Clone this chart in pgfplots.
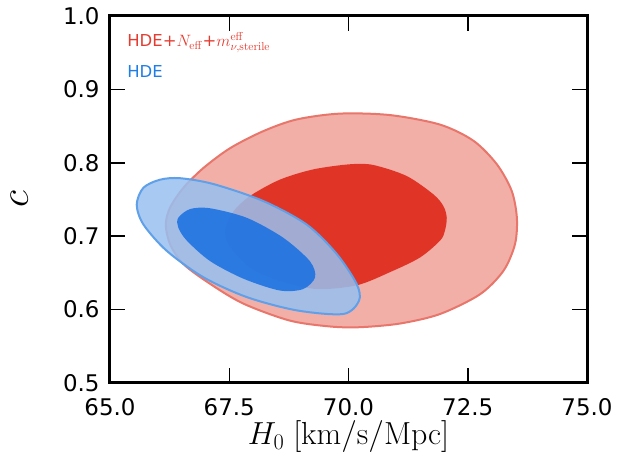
\RequirePackage{fix-cm}
\documentclass[border=0pt]{standalone}
\usepackage[no-math]{fontspec}
\setmainfont{DejaVu Sans}
\usepackage{pgfplots}
\pgfplotsset{compat=1.18}
\definecolor{redouter}{RGB}{242,175,168}
\definecolor{redline}{RGB}{232,118,107}
\definecolor{redinner}{RGB}{224,53,38}
\definecolor{blueouter}{RGB}{152,192,240}
\definecolor{blueline}{RGB}{95,160,232}
\definecolor{blueinner}{RGB}{30,115,225}
\definecolor{legred}{RGB}{228,60,48}
\definecolor{legblue}{RGB}{30,125,230}
\begin{document}
\begin{tikzpicture}
\begin{axis}[name=ax, scale only axis, width=477bp, height=367bp,
  xmin=65, xmax=75, ymin=0.5, ymax=1.0,
  xtick={65,67.5,70,72.5,75}, ytick={0.5,0.6,0.7,0.8,0.9,1.0},
  /pgf/number format/.cd, fixed, fixed zerofill, precision=1, assume math mode=true, /pgfplots/.cd,
  tick align=inside, major tick length=15bp,
  tick style={line width=1.5bp, black},
  axis line style={line width=3bp},
  ticklabel style={font=\fontsize{23}{23}\selectfont},
  xticklabel style={yshift=-12bp},
  yticklabel style={xshift=-7bp},
  no markers,
  xlabel={$H_0\;[\mathrm{km/s/Mpc}]$},
  xlabel style={font=\fontsize{32}{32}\selectfont, at={(axis description cs:0.5,-0.168)}, anchor=base},
  ylabel={$c$},
  ylabel style={font=\fontsize{40}{40}\selectfont, inner sep=0pt, at={(axis description cs:-0.19,0.5)}, anchor=center},
]
\addplot[fill=redouter, draw=redline, line width=2bp, smooth cycle] coordinates {
(66.17,0.716) (66.26,0.739) (66.54,0.766) (66.96,0.793) (67.52,0.820) (68.21,0.843) (68.91,0.859)
(69.82,0.867) (70.87,0.865) (71.92,0.852) (72.62,0.830) (73.11,0.798) (73.42,0.762) (73.53,0.725)
(73.49,0.689) (73.25,0.653) (72.76,0.621) (71.92,0.594) (71.08,0.581) (70.24,0.576) (69.61,0.577)
(68.77,0.585) (67.80,0.608) (67.10,0.635) (66.54,0.662) (66.26,0.689)
};
\addplot[fill=redinner, draw=none, smooth cycle] coordinates {
(67.41,0.707) (67.59,0.734) (67.94,0.755) (68.56,0.777) (69.26,0.791) (70.03,0.798) (70.52,0.797)
(71.22,0.782) (71.78,0.757) (71.99,0.741) (72.06,0.725) (72.02,0.707) (71.92,0.694) (71.50,0.671)
(70.87,0.651) (70.17,0.633) (69.33,0.628) (68.56,0.639) (67.94,0.657) (67.52,0.685)
};
\addplot[fill=blueouter, fill opacity=0.86, draw=blueline, line width=2bp, smooth cycle] coordinates {
(65.56,0.743) (65.70,0.766) (66.05,0.777) (66.47,0.779) (67.17,0.771) (68.21,0.748) (69.12,0.716)
(69.75,0.676) (70.17,0.635) (70.22,0.612) (69.89,0.594) (68.91,0.599) (67.87,0.617) (66.96,0.644)
(66.19,0.680) (65.70,0.716)
};
\addplot[fill=blueinner, fill opacity=0.9, draw=none, smooth cycle] coordinates {
(66.43,0.725) (66.68,0.737) (67.10,0.738) (67.87,0.725) (68.63,0.698) (69.19,0.666) (69.30,0.644)
(69.05,0.628) (68.56,0.626) (67.80,0.642) (67.10,0.666) (66.61,0.694) (66.43,0.712)
};
\node[anchor=base west, text=legred, font=\fontsize{16.5}{16.5}\selectfont, inner sep=0pt] at (axis cs:65.36,0.958)
  {HDE+$N_{\mathrm{eff}}$+$m_{\nu,\mathrm{sterile}}^{\mathrm{eff}}$};
\node[anchor=base west, text=legblue, font=\fontsize{16.5}{16.5}\selectfont, inner sep=0pt] at (axis cs:65.36,0.916) {HDE};
\end{axis}
\pgfresetboundingbox
\path[use as bounding box] ([shift={(-110bp,-87bp)}]ax.south west) rectangle ([shift={(31bp,16bp)}]ax.north east);
\end{tikzpicture}
\end{document}
